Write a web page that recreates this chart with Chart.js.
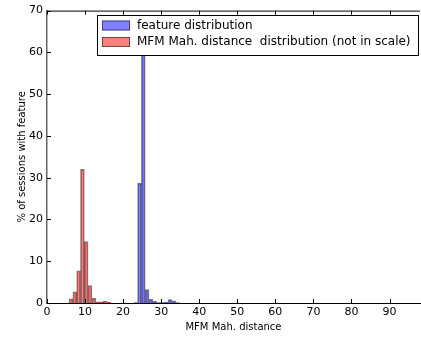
<!DOCTYPE html>
<html>
<head>
<meta charset="utf-8">
<script src="https://cdn.jsdelivr.net/npm/chart.js@4"></script>
<style>
  html, body { margin: 0; padding: 0; background: #fff; }
  #wrap { width: 421px; height: 337px; }
</style>
</head>
<body>
<div id="wrap"><canvas id="histChart" width="421" height="337"></canvas></div>
<script>
// histogram bin centres and heights (% of sessions)
const featureBins = [23.3, 24.3, 25.3, 26.3, 27.3, 28.3, 29.3, 30.3, 31.3, 32.3, 33.3, 34.3];
const featureVals = [0.1, 28.7, 62, 3.2, 0.9, 0.4, 0.1, 0.1, 0.2, 0.8, 0.5, 0.1];
const mfmBins = [6.3, 7.3, 8.3, 9.3, 10.3, 11.3, 12.3, 13.3, 14.3, 15.3, 16.3];
const mfmVals = [1.0, 2.7, 7.7, 32.0, 14.7, 4.2, 1.1, 0.3, 0.3, 0.4, 0.2];
const xTicks = [0, 10, 20, 30, 40, 50, 60, 70, 80, 90];
const yTicks = [0, 10, 20, 30, 40, 50, 60, 70];
const seriesLabels = ['feature distribution', 'MFM Mah. distance  distribution (not in scale)'];

const FONT = 'DejaVu Sans';

// matplotlib-style inward ticks, top spine and legend inside the axes
const axesDecor = {
    id: 'axesDecor',
    afterDraw(chart) {
        const c = chart.ctx;
        const a = chart.chartArea;
        const xs = chart.scales.x, ys = chart.scales.y;
        c.save();
        c.strokeStyle = '#000';
        c.lineWidth = 1;
        c.beginPath();
        c.moveTo(a.left, a.top + 0.5);
        c.lineTo(a.right, a.top + 0.5);
        xTicks.forEach(v => {
            const px = Math.round(xs.getPixelForValue(v)) + 0.5;
            c.moveTo(px, a.bottom); c.lineTo(px, a.bottom - 4);
            c.moveTo(px, a.top); c.lineTo(px, a.top + 4);
        });
        yTicks.forEach(v => {
            const py = Math.round(ys.getPixelForValue(v)) + 0.5;
            c.moveTo(a.left, py); c.lineTo(a.left + 4, py);
        });
        c.stroke();

        // legend box
        const bx = 97.5, by = 15.5, bw = 321, bh = 40;
        c.fillStyle = '#fff';
        c.fillRect(bx, by, bw, bh);
        c.strokeRect(bx, by, bw, bh);
        c.font = '12px "' + FONT + '"';
        c.textBaseline = 'middle';
        chart.data.datasets.forEach((ds, i) => {
            const cy = 25.5 + i * 16.5;
            c.fillStyle = ds.backgroundColor;
            c.fillRect(102, cy - 5, 28, 10);
            c.strokeStyle = 'rgba(0,0,0,0.5)';
            c.strokeRect(102.5, cy - 4.5, 27, 9);
            c.fillStyle = '#000';
            c.fillText(seriesLabels[i], 137, cy);
        });
        c.restore();
    }
};

const ctx = document.getElementById('histChart').getContext('2d');
const histChart = new Chart(ctx, {
    type: 'bar',
    data: {
        datasets: [
            {
                label: seriesLabels[0],
                data: featureBins.map((x, i) => ({ x: x, y: featureVals[i] })),
                backgroundColor: 'rgba(0,0,255,0.5)',
                borderColor: 'rgba(0,0,0,0.5)',
                borderWidth: 1,
                barPercentage: 1,
                categoryPercentage: 1,
                grouped: false
            },
            {
                label: seriesLabels[1],
                data: mfmBins.map((x, i) => ({ x: x, y: mfmVals[i] })),
                backgroundColor: 'rgba(255,0,0,0.5)',
                borderColor: 'rgba(0,0,0,0.5)',
                borderWidth: 1,
                barPercentage: 1,
                categoryPercentage: 1,
                grouped: false
            }
        ]
    },
    options: {
        responsive: false,
        animation: false,
        layout: { padding: { top: 9, right: 1, left: 0, bottom: 0 } },
        plugins: {
            legend: { display: false },
            tooltip: { enabled: false }
        },
        scales: {
            x: {
                type: 'linear',
                min: 0,
                max: 98,
                offset: false,
                afterBuildTicks: s => { s.ticks = xTicks.map(v => ({ value: v })); },
                afterFit: s => { s.height = 34; },
                grid: { display: false, drawTicks: false },
                border: { display: true, color: '#000', width: 1 },
                ticks: { color: '#000', padding: 3, maxRotation: 0, font: { family: FONT, size: 11 } },
                title: { display: true, text: 'MFM Mah. distance', color: '#000', padding: { top: 2, bottom: 4 }, font: { family: FONT, size: 10 } }
            },
            y: {
                min: 0,
                max: 70,
                afterBuildTicks: s => { s.ticks = yTicks.map(v => ({ value: v })); },
                afterFit: s => { s.width = 47; },
                grid: { display: false, drawTicks: false },
                border: { display: true, color: '#666', width: 1.5 },
                ticks: { color: '#000', padding: 4, font: { family: FONT, size: 11 } },
                title: { display: true, text: '% of sessions with feature', color: '#000', padding: { top: 16, bottom: 2 }, font: { family: FONT, size: 10 } }
            }
        }
    },
    plugins: [axesDecor]
});
</script>
</body>
</html>
